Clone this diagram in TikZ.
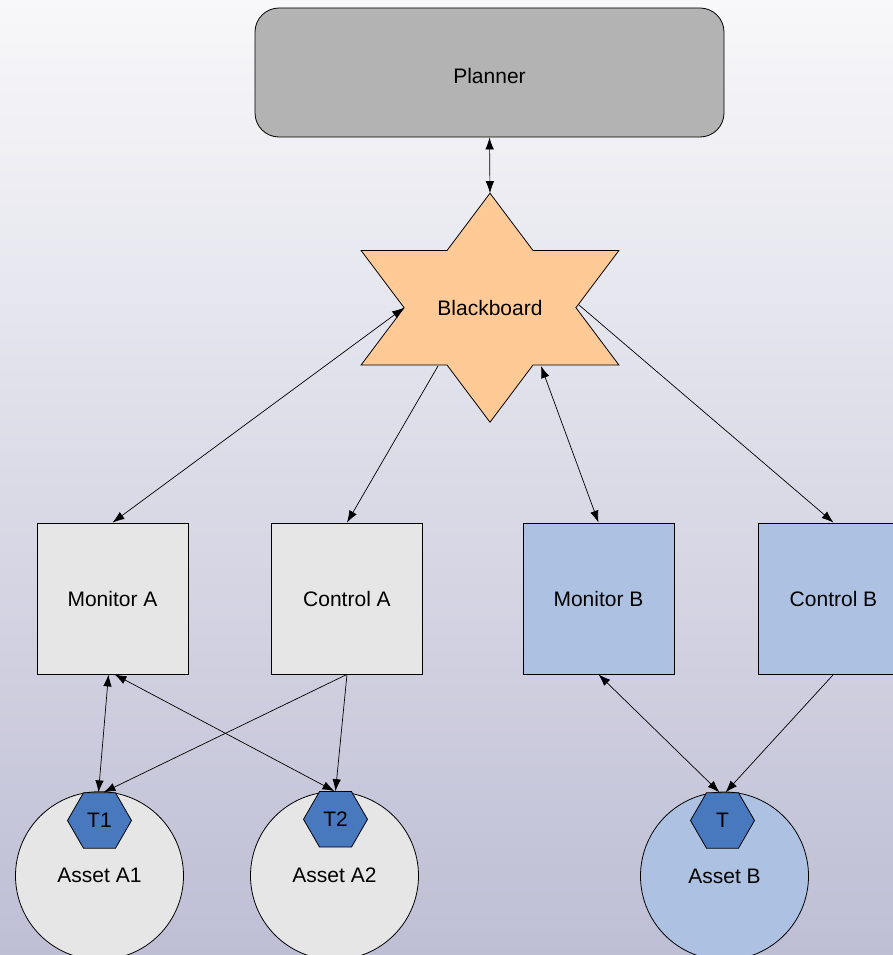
\documentclass[tikz,border=0pt]{standalone}
\usepackage{fontspec}
\setmainfont{Liberation Sans}
\usetikzlibrary{arrows.meta,shapes.geometric}

\definecolor{bgtop}{RGB}{248,248,250}
\definecolor{bgbot}{RGB}{190,190,213}
\definecolor{plannerfill}{RGB}{179,179,179}
\definecolor{boardfill}{RGB}{255,202,150}
\definecolor{grayfill}{RGB}{230,230,230}
\definecolor{bluefill}{RGB}{173,194,226}
\definecolor{hexfill}{RGB}{72,120,190}

\tikzset{
  lbl/.style={font=\fontsize{21}{25}\selectfont, text=black},
  unitbox/.style={draw=black, line width=0.8pt, minimum width=151pt, minimum height=151pt, inner sep=0pt, lbl},
  graybox/.style={unitbox, fill=grayfill},
  bluebox/.style={unitbox, fill=bluefill},
  asset/.style={circle, draw=black, line width=0.8pt, minimum size=168pt, inner sep=0pt, lbl},
  tag/.style={regular polygon, regular polygon sides=6, draw=black, line width=0.8pt,
    fill=hexfill, minimum size=64pt, inner sep=0pt, lbl},
  link/.style={line width=0.7pt, -{Latex[length=12pt,width=8.5pt]}},
  duplex/.style={line width=0.7pt, {Latex[length=12pt,width=8.5pt]}-{Latex[length=12pt,width=8.5pt]}},
}

\begin{document}
\begin{tikzpicture}[x=1pt,y=-1pt]
  % backdrop
  \shade[top color=bgtop, bottom color=bgbot] (0,0) rectangle (893,955);
  \useasboundingbox (0,0) rectangle (893,955);

  % planner (label sits slightly below the box centre)
  \node[draw=black, line width=0.8pt, fill=plannerfill, rounded corners=24pt,
        minimum width=469pt, minimum height=129pt, lbl, text height=23pt, text depth=0pt]
        (pl) at (489.5,72.5) {Planner};

  % blackboard star
  \draw[line width=0.8pt, fill=boardfill]
    (490,193.2) -- (533,250.5) -- (618.9,250.5) -- (575.9,307.7) -- (618.9,365)
    -- (533,365) -- (490,422.2) -- (447,365) -- (361.1,365) -- (404.1,307.7)
    -- (361.1,250.5) -- (447,250.5) -- cycle;
  \node[lbl] (bb) at (490,307.7) {Blackboard};
  \coordinate (bbtop) at (490,193.2);
  \coordinate (bbleft) at (404.1,307.7);
  \coordinate (bbright) at (579,305);
  \coordinate (bbsl) at (438,366);
  \coordinate (bbsr) at (541,366);

  % monitors and controls
  \node[graybox] (ma) at (112.5,598.5) {Monitor A};
  \node[graybox] (ca) at (347,598.5) {Control A};
  \node[bluebox] (mb) at (598.5,598.5) {Monitor B};
  \node[bluebox] (cb) at (833.5,598.5) {Control B};

  % assets with their tags
  \node[asset, fill=grayfill] (a1) at (99.5,875.7) {Asset A1};
  \node[asset, fill=grayfill] (a2) at (334.5,875.7) {Asset A2};
  \node[asset, fill=bluefill] (ab) at (724.5,876) {Asset B};
  \node[tag] (t1) at (99.5,820.5) {T1};
  \node[tag] (t2) at (335.5,819.3) {T2};
  \node[tag] (tb) at (722.5,820.5) {T};

  % connectors
  \draw[duplex] (pl.south) -- (bbtop);
  \draw[duplex] (bbleft) -- (ma.north);
  \draw[link] (bbsl) -- (ca.north);
  \draw[duplex] (bbsr) -- (mb.north);
  \draw[link] (bbright) -- (cb.north);

  \draw[duplex] ([xshift=-4pt]ma.south) -- ([xshift=-1pt]t1.north);
  \draw[duplex] ([xshift=2pt]ma.south) -- ([xshift=-1pt]t2.north);
  \draw[link] (ca.south) -- ([xshift=4pt]t1.north);
  \draw[link] (ca.south) -- (t2.north);
  \draw[duplex] (mb.south) -- ([xshift=-3pt]tb.north);
  \draw[link] (cb.south) -- ([xshift=3pt]tb.north);
\end{tikzpicture}
\end{document}
